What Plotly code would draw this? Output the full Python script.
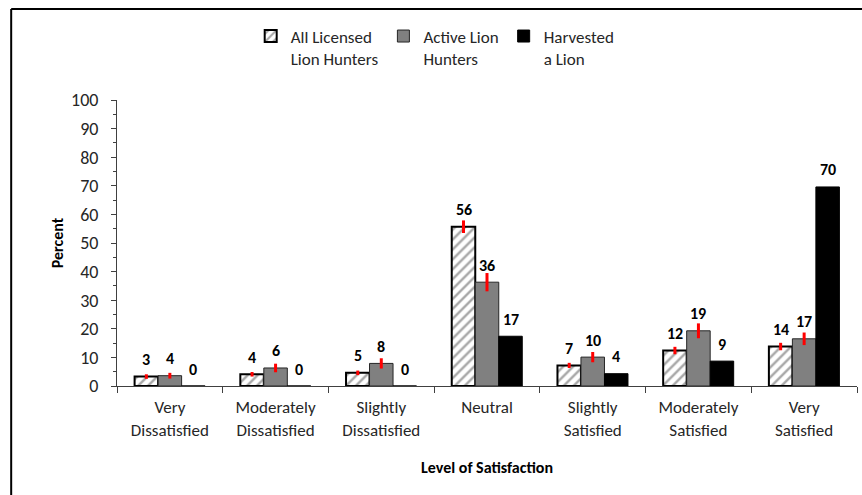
import plotly.graph_objects as go

categories = ["Very<br>Dissatisfied", "Moderately<br>Dissatisfied", "Slightly<br>Dissatisfied",
              "Neutral", "Slightly<br>Satisfied", "Moderately<br>Satisfied", "Very<br>Satisfied"]
series_names = ["All Licensed<br>Lion Hunters", "Active Lion<br>Hunters", "Harvested<br>a Lion"]

all_licensed = [3.3, 4.1, 4.6, 55.7, 7.2, 12.4, 13.8]
active = [3.6, 6.3, 7.9, 36.3, 10.1, 19.3, 16.5]
harvested = [0, 0, 0, 17.4, 4.3, 8.7, 69.6]

all_licensed_err = [0.8, 0.8, 0.8, 2.2, 0.9, 1.3, 1.3]
active_err = [1.0, 1.5, 1.8, 3.2, 1.8, 2.6, 2.2]

all_licensed_lbl = ["3", "4", "5", "56", "7", "12", "14"]
active_lbl = ["4", "6", "8", "36", "10", "19", "17"]
harvested_lbl = ["0", "0", "0", "17", "4", "9", "70"]

FONT = "Carlito, Calibri, Lato, sans-serif"
bargap = 0.333

fig = go.Figure()
fig.add_trace(go.Bar(
    x=categories, y=all_licensed, name=series_names[0],
    marker=dict(color="white", line=dict(color="black", width=2),
                pattern=dict(shape="/", fgcolor="#505050", bgcolor="white", size=7, solidity=0.35)),
    error_y=dict(type="data", array=all_licensed_err, color="red", thickness=3, width=0),
))
fig.add_trace(go.Bar(
    x=categories, y=active, name=series_names[1],
    marker=dict(color="#808080", line=dict(color="#262626", width=1)),
    error_y=dict(type="data", array=active_err, color="red", thickness=3, width=0),
))
fig.add_trace(go.Bar(
    x=categories, y=harvested, name=series_names[2],
    marker=dict(color="black", line=dict(color="black", width=1)),
))

# value labels above each bar
bw = (1 - bargap) / 3
for k, (vals, lbls) in enumerate([(all_licensed, all_licensed_lbl), (active, active_lbl),
                                  (harvested, harvested_lbl)]):
    for i, (v, t) in enumerate(zip(vals, lbls)):
        fig.add_annotation(x=i + (k - 1) * bw, y=v, text=f"<b>{t}</b>", showarrow=False,
                           yanchor="middle", yshift=17,
                           font=dict(family=FONT, size=16, color="black"))

fig.update_layout(
    width=862, height=495,
    barmode="group", bargap=bargap, bargroupgap=0,
    plot_bgcolor="white", paper_bgcolor="white",
    margin=dict(l=117, r=5, t=100, b=109, autoexpand=False),
    font=dict(family=FONT, size=17, color="#262626"),
    showlegend=True,
    legend=dict(orientation="h", x=0.43, xanchor="center", y=1.285, yanchor="top",
                font=dict(family=FONT, size=17, color="#262626"), valign="top",
                itemwidth=30, traceorder="normal", bgcolor="rgba(0,0,0,0)"),
    xaxis=dict(
        showline=True, linecolor="#404040", linewidth=1, automargin=False,
        ticks="outside", tickson="boundaries", ticklen=6, tickcolor="#404040",
        ticklabelstandoff=6,
        title=dict(text="<b>Level of Satisfaction</b>", font=dict(family=FONT, size=16, color="black"),
                   standoff=22),
        tickfont=dict(family=FONT, size=17, color="#262626"),
    ),
    yaxis=dict(
        range=[0, 100], tickvals=list(range(0, 101, 10)), automargin=False,
        showline=True, linecolor="#404040", linewidth=1,
        ticks="outside", ticklen=5, tickcolor="#404040",
        ticklabelstandoff=9,
        minor=dict(ticks="outside", ticklen=3, dtick=5, tickcolor="#404040", showgrid=False),
        showgrid=False, zeroline=False,
        title=dict(text="<b>Percent</b>", font=dict(family=FONT, size=16, color="black"), standoff=3),
        tickfont=dict(family=FONT, size=18, color="#262626"),
    ),
    shapes=[
        dict(type="line", xref="paper", yref="paper", x0=-0.143, x1=1.2, y0=1.318, y1=1.318,
             line=dict(color="black", width=2)),
        dict(type="line", xref="paper", yref="paper", x0=-0.143, x1=-0.143, y0=-0.5, y1=1.318,
             line=dict(color="black", width=2)),
    ],
)

# drop the default page margin so the figure sits at the window corner
fig.write_html("out.html", config={"displayModeBar": False},
               post_script="document.body.style.margin='0';")
